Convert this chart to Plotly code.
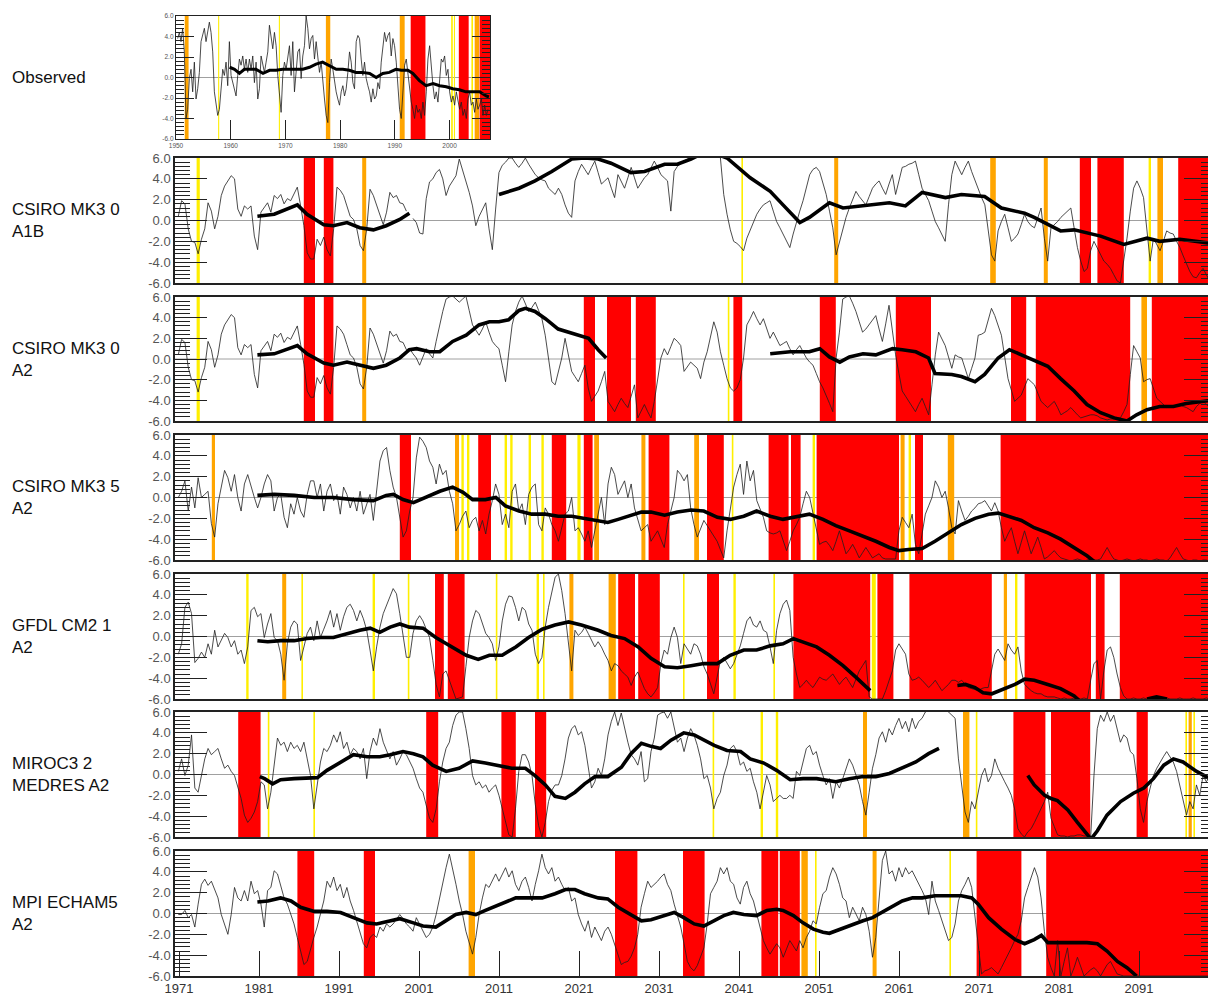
import plotly.graph_objects as go

MODEL_T0 = 1970.5      # first model sample is MODEL_T0 + MODEL_DT
MODEL_DT = 0.4132      # years between digitised samples
OBS_T0 = 1950.0
OBS_DT = 0.305

# ---------------- thin lines (index values) ----------------
CSIRO30_HIST = [
    0.4, 1.9, 1.6, -0.8, -2.0, -2.1, -3.2, -1.8, -0.8, 1.7,
    0.9, -0.8, 0.4, 2.4, 3.3, 3.8, 4.3, 4.0, 1.1, 0.4,
    1.4, 1.1, 1.4, -1.5, -2.8, 0.8, 1.2, 1.7, 0.8, 2.4,
    2.1, 2.5, 1.6, 2.1, 1.9, 2.5, 3.2, 1.4, -0.5, -3.1,
    -3.7, -3.7, -1.8, -2.4, -1.6, -2.8, -3.4, -0.8, 3.2, 2.9,
    2.4, 1.4, 0.4, 0.1, -0.8, -2.4, -2.9, -0.8, 3.0, 2.4,
    1.4, 0.4, -0.4, 0.8, 2.7, 2.2, 2.4, 1.7, 1.6, 0.9]

A1B_FUT = [
    None, 0.2, -0.2, -1.2, -1.3, 2.1, 3.7, 4.0, 4.6, 4.9,
    4.0, 2.4, 3.3, 3.8, 4.3, 5.9, 4.9, 3.7, 2.7, 1.4,
    -0.5, 0.4, 1.1, 1.7, -0.8, -2.8, 1.1, 4.6, 5.3, 5.6,
    6.0, 6.0, 5.5, 5.1, 5.5, 6.0, 5.4, 4.9, 4.4, 4.1,
    3.9, 3.8, 3.1, 2.8, 2.5, 3.1, 2.5, 1.5, 0.7, 0.3,
    3.8, 4.7, 5.4, 4.9, 4.4, 5.1, 5.7, 4.6, 3.5, 3.8,
    4.1, 3.1, 2.2, 4.4, 3.8, 3.1, 4.1, 5.1, 4.1, 3.1,
    3.6, 4.1, 4.4, 5.1, 5.7, 5.1, 4.4, 4.1, 3.8, 0.9,
    4.7, 5.2, 5.5, 5.7, 5.9, 6.0, 6.3, 6.5, 6.8, 6.5,
    6.6, 6.4, 6.3, 6.2, 6.0, 2.5, 0.6, -0.9, -2.0, -2.2,
    -2.5, -2.9, -1.7, -0.9, -0.1, 0.6, 1.1, 1.5, 1.7, 1.9,
    0.9, -0.1, -0.7, -1.3, -2.0, -2.6, -1.3, -0.1, 0.9, 1.9,
    3.1, 4.4, 4.9, 5.1, 4.7, 3.6, 2.5, 0.9, -0.7, -3.3,
    -2.0, -0.7, 0.3, 1.2, 2.0, 2.8, 2.3, 1.9, 1.5, 2.3,
    3.1, 3.5, 3.8, 3.1, 2.5, 3.5, 4.4, 2.5, 3.8, 5.1,
    5.2, 5.4, 5.5, 5.7, 4.4, 3.1, 2.5, 1.9, 0.9, -0.1,
    -0.7, -1.3, -2.0, 1.5, 4.4, 5.7, 5.1, 4.4, 5.1, 5.7,
    4.7, 3.8, 3.0, 2.2, 1.5, -0.7, -3.3, -3.9, -1.0, -0.1,
    0.6, -0.7, -2.0, -1.7, -1.3, -0.4, 0.6, -0.1, -0.5, -0.7,
    0.3, 1.2, -1.7, -3.9, -0.7, -0.4, -0.1, 0.3, 0.6, 0.9,
    1.2, -0.7, -2.6, -3.9, -4.9, -4.6, -2.9, -2.0, -2.6, -3.3,
    -3.9, -4.2, -4.6, -5.2, -5.8, -6.0, -3.9, -1.7, 0.9, 3.1,
    3.8, 3.1, 2.2, -1.0, -3.9, -1.7, -2.3, -2.9, -2.0, -1.0,
    -1.2, -1.3, -2.0, -2.6, -3.4, -4.2, -4.9, -5.4, -5.5, -5.0,
    -4.6, -5.2, -5.8]

A2_FUT = [
    1.0, 0.5, 0.1, -0.6, 0.2, 1.0, 0.5, 0.1, 1.7, 3.3,
    4.6, 5.8, 6.0, 6.1, 5.8, 5.5, 5.8, 6.1, 4.7, 3.3,
    2.8, 2.3, 2.9, 3.6, 2.6, 1.7, 1.3, 1.0, -0.6, -2.2,
    0.7, 3.3, 4.6, 5.5, 6.1, 5.4, 4.6, 5.0, 5.5, 4.7,
    3.9, 2.3, 0.1, -2.2, -2.5, -1.2, 0.1, 2.0, 0.4, -1.2,
    -1.7, -2.2, -1.4, -0.6, -2.8, -4.1, -3.6, -3.1, -2.2, -1.2,
    -4.1, -4.6, -5.1, -4.4, -3.8, -4.3, -4.7, -3.6, -2.5, -5.7,
    -5.1, -4.4, -5.1, -5.7, -4.1, -2.2, 0.1, 1.0, 0.4, 1.2,
    2.0, 1.7, 1.3, -1.2, -0.7, -0.3, -0.6, -0.9, -1.9, -0.3,
    0.7, 2.3, 3.6, 2.6, 0.7, -0.6, -1.9, -2.8, -3.1, -2.8,
    -2.0, 0.1, 3.3, 3.9, 4.6, 3.9, 3.3, 3.9, 2.9, 2.0,
    2.6, 2.0, 1.3, 1.5, 1.7, 1.0, 0.4, 0.9, 1.3, 0.7,
    0.1, -0.3, -0.6, -1.4, -2.2, -2.8, -3.5, -4.3, -5.1, 0.1,
    2.6, 5.8, 6.0, 6.1, 5.4, 4.6, 3.6, 2.6, 2.9, 3.3,
    3.8, 4.2, 2.9, 1.7, 3.4, 5.2, 2.8, 0.4, -1.4, -3.1,
    -3.6, -4.1, -4.6, -5.1, -4.4, -3.8, -4.6, -5.4, -2.5, 0.4,
    2.6, 2.0, 1.3, 0.2, -0.9, 0.4, 0.2, 0.1, -0.9, -1.9,
    -0.9, 0.1, 2.3, 2.4, 2.6, 3.8, 4.9, 4.2, 3.3, 2.3,
    0.2, -1.9, -3.0, -4.1, -3.8, -3.5, -2.7, -1.9, -2.2, -2.5,
    -3.3, -4.1, -4.4, -4.7, -4.4, -4.1, -4.7, -5.4, -5.2, -5.0,
    -4.7, -5.1, -5.4, -5.7, -5.6, -5.5, -5.4, -5.4, -5.5, -5.7,
    -5.8, -5.9, -5.8, -5.8, -5.7, -5.7, -5.1, -4.4, -1.5, 1.3,
    0.7, 0.1, -2.2, -2.0, -1.9, -2.8, -3.8, -4.1, -4.4, -4.7,
    -4.6, -4.6, -4.5, -4.4, -4.6, -4.7, -4.9, -5.1, -4.6, -4.3,
    -4.1, -4.4, -4.7]

MK35_VALUES = [
    0.0, 0.6, 1.6, -1.3, 1.0, -1.0, 1.9, 0.0, 0.3, 0.6,
    -2.5, -3.8, -0.6, 1.0, 2.6, 1.9, 0.6, 2.2, 0.0, -1.3,
    1.3, 2.2, 1.0, 0.0, -1.0, 0.0, 1.3, 2.2, 1.6, -1.3,
    0.0, 0.3, -1.9, -2.9, -0.6, -1.6, 0.0, -1.3, -1.9, 0.3,
    1.6, 1.6, 0.0, 1.3, -1.3, 0.6, 1.3, -0.3, 0.3, -1.6,
    1.0, 0.3, -1.0, 0.0, -1.3, 0.6, -1.6, -0.6, 0.3, -2.2,
    0.6, 3.5, 4.5, 4.8, 2.6, 1.0, 0.0, -1.9, -3.8, -3.2,
    -1.3, 0.0, 3.8, 5.8, 5.4, 4.8, 3.5, 2.9, 1.3, 3.2,
    2.2, 2.6, 0.6, -0.6, -3.2, -2.6, -1.8, -1.3, -2.9, -2.2,
    -1.9, -3.2, -2.2, -3.5, -1.6, -0.3, 1.3, 0.3, -2.6, -1.6,
    -2.9, 0.6, 1.3, -1.3, -0.6, -2.6, 0.3, 1.0, 1.3, -2.6,
    -3.2, -1.0, -1.6, -2.6, -3.2, -4.2, -2.9, -1.6, -1.3, 0.0,
    -3.2, -2.9, -3.5, -4.2, -3.2, -4.8, -3.2, -1.6, 0.0, -2.6,
    1.3, 2.9, 2.2, 0.3, 1.0, 1.6, 0.0, 1.3, -1.0, -2.2,
    -3.2, -2.9, -2.6, -4.2, -3.7, -3.2, -4.0, -4.8, -2.6, -1.3,
    0.0, 2.6, 2.2, 1.6, 2.2, -1.0, -2.6, -3.8, -3.0, -2.2,
    -2.7, -3.2, -3.7, -4.2, -5.0, -5.8, -3.2, -1.3, 1.0, 2.2,
    3.2, 0.3, 3.5, 1.6, 2.6, -0.3, -1.1, -1.9, -3.2, -3.4,
    -3.5, -3.4, -3.2, -4.2, -5.1, -4.2, -3.2, -2.6, -1.9, -0.6,
    0.6, 0.0, -1.6, -3.2, -4.5, -4.3, -4.2, -4.6, -5.1, -4.2,
    -3.2, -4.3, -5.4, -5.0, -4.5, -5.1, -5.8, -5.3, -4.8, -5.3,
    -5.8, -5.6, -5.4, -5.8, -5.9, -5.9, -5.9, -5.9, -3.2, -1.9,
    -2.4, -2.9, -1.6, -4.5, -5.4, -3.5, -1.6, -0.8, 0.0, 1.6,
    1.0, 0.0, 0.6, -1.0, -2.9, -3.5, -0.3, -1.3, -2.2, -1.8,
    -1.3, -1.0, -0.6, -0.5, -0.3, -0.8, -1.3, -0.5, -1.3, -2.9,
    -4.2, -3.5, -2.9, -4.2, -5.4, -4.3, -3.2, -4.3, -5.4, -4.6,
    -3.8, -4.8, -5.9, -5.7, -5.4, -5.1, -5.5, -5.8, -5.9, -6.0,
    -6.1, -6.0, -5.9, -6.0, -6.1, -6.0, -5.9, -6.0, -6.0, -5.9,
    -5.4, -4.8, -5.4, -5.9, -6.0, -6.1, -6.0, -5.9, -6.0, -6.1,
    -6.0, -5.9, -6.0, -6.0, -6.1, -6.0, -5.9, -6.0, -6.0, -6.1,
    -5.8, -5.3, -4.8, -5.4, -5.9, -6.0, -6.1, -6.0, -6.0, -6.1,
    -6.0, -6.0, -6.1]

GFDL_VALUES = [
    -1.7, -0.7, 2.8, 3.3, 2.2, -2.5, -2.1, -1.5, -2.0, -0.7,
    -1.7, 0.6, -1.0, -0.4, 0.3, -0.1, -1.0, -0.4, -1.7, -1.3,
    -2.6, -1.0, 2.5, 2.8, 1.9, 2.2, -0.1, 1.2, 2.2, -0.1,
    -0.4, -1.7, -4.2, -0.7, 0.9, 1.5, 1.2, -2.3, -1.0, 0.3,
    0.9, -0.4, 1.5, -0.1, 0.7, 1.5, 2.5, 0.9, 2.2, 0.6,
    1.9, 2.8, 3.1, 2.5, 1.5, 2.5, 1.7, 0.6, -1.3, -3.3,
    -1.0, 0.9, 2.2, 3.1, 3.8, 4.6, 4.1, 2.2, 0.3, -2.0,
    -2.0, 0.3, 1.5, 2.0, 1.5, 0.6, -0.1, -2.3, -4.6, -5.8,
    -3.6, -3.3, -4.2, -5.2, -6.0, -5.9, -5.8, -2.9, -0.1, 1.5,
    2.5, 2.2, 1.2, 0.3, -0.1, -0.7, -2.3, -1.0, 1.5, 3.1,
    3.9, 3.8, 2.8, 1.5, 2.8, 2.5, 1.2, 0.6, -1.7, -2.6,
    -2.0, 0.9, 2.8, 4.4, 5.7, 6.0, 4.4, 2.2, -0.7, -3.3,
    0.6, 0.1, 0.4, 0.9, 0.3, -0.4, -1.0, -0.5, -1.0, -1.7,
    -2.3, -3.3, -2.6, -2.8, -3.3, -3.6, -3.9, -4.7, -3.9, -3.4,
    -4.2, -5.0, -5.5, -5.8, -5.4, -4.9, -2.6, -1.3, -1.7, -0.1,
    0.9, -0.1, -2.6, -0.7, -1.2, -1.7, -0.7, -0.9, -1.7, -2.9,
    -3.6, -4.6, -5.5, -3.9, -2.3, -2.0, -2.6, -3.1, -2.6, -1.7,
    -0.9, 0.3, 1.5, 1.9, 1.1, 0.9, 1.5, 0.6, 0.4, -1.0,
    -2.6, 0.6, 2.2, 3.1, 3.5, 2.5, -2.0, -3.6, -4.9, -4.6,
    -4.2, -4.6, -4.9, -4.4, -3.9, -4.1, -4.2, -3.9, -3.6, -4.1,
    -4.6, -4.2, -3.9, -4.4, -4.9, -4.1, -3.3, -2.8, -2.3, -5.8,
    -6.0, -6.0, -6.0, -6.0, -5.2, -4.2, -3.3, -1.3, -0.7, -1.2,
    -1.7, -3.6, -4.2, -4.1, -3.9, -4.2, -4.6, -4.9, -4.6, -4.2,
    -4.7, -5.2, -4.9, -4.6, -4.2, -4.2, -4.4, -4.2, -4.6, -4.9,
    -5.0, -5.1, -5.2, -5.0, -4.9, -4.9, -3.3, -1.7, -1.2, -1.7,
    -2.3, -0.7, -1.3, -1.7, -1.0, -3.3, -4.6, -4.9, -5.2, -5.4,
    -5.5, -5.5, -5.7, -5.8, -5.8, -5.8, -5.9, -6.0, -5.9, -6.0,
    -6.0, -5.9, -6.0, -6.0, -5.9, -6.0, -4.2, -2.6, -2.3, -6.0,
    -3.3, -1.3, -1.0, -2.0, -3.6, -4.9, -5.7, -6.0, -6.0, -5.9,
    -6.0, -6.0, -5.9, -6.0, -6.0, -6.0, -5.9, -6.0, -6.0, -5.9,
    -6.0, -6.0, -6.0, -5.9, -6.0, -6.0, -6.0, -5.9, -6.0, -6.0,
    -6.0, -5.9, -6.0]

MIROC_VALUES = [
    0.3, 1.5, -0.1, 0.9, 3.8, -1.3, -1.7, -0.1, 1.5, 2.5,
    1.9, 2.2, 2.5, 1.5, 0.6, 0.9, 0.3, -0.1, -1.3, -2.3,
    -3.9, -4.6, -4.2, -3.6, -2.6, -0.7, -1.0, -3.3, -1.7, 0.9,
    3.5, 2.8, 3.1, 2.2, 3.1, 2.5, 2.8, 2.2, 3.1, 1.5,
    -0.1, -3.3, -1.0, 1.2, 2.5, 2.2, 2.8, 3.8, 3.1, 4.1,
    2.5, 3.1, 1.9, 2.5, 2.2, 1.5, 2.5, -0.4, 2.2, 3.5,
    2.8, 4.4, 3.1, 2.2, 1.5, 2.2, 0.9, 1.5, 2.2, 1.9,
    1.2, 0.6, -0.4, -1.3, -1.7, -2.9, -4.2, -4.6, -3.3, -0.7,
    1.2, 2.5, 3.1, 4.7, 5.7, 6.0, 6.0, 4.4, 2.5, -0.1,
    -1.0, -0.7, -1.3, -1.0, -1.7, -1.3, -1.0, -2.0, -3.3, -4.6,
    -5.8, -6.0, -3.3, 0.3, 1.9, 1.9, 1.2, -0.1, -2.9, -4.9,
    -6.0, -4.6, -2.6, -1.5, -1.0, -1.0, -0.1, 1.5, 3.5, 4.4,
    4.7, 3.8, 4.1, 2.8, 0.6, -1.3, -0.7, 0.6, -0.1, 1.5,
    3.8, 5.1, 6.0, 4.7, 5.9, 4.4, 3.1, 1.9, 1.5, 0.9,
    2.2, -0.7, -0.4, 2.2, 3.5, 5.7, 5.9, 6.0, 5.4, 6.0,
    4.4, 3.1, 3.5, 2.2, 3.5, 4.4, 3.8, 2.8, 1.5, -0.4,
    -0.1, -1.3, -3.3, -2.3, -1.7, -0.1, 0.9, 2.5, 2.8, 2.2,
    0.9, 1.2, 0.3, 0.6, -0.7, -1.7, -3.3, -1.7, -0.1, -1.0,
    -2.6, -2.3, -2.0, -2.3, -2.3, -2.0, -2.3, 0.3, -0.1, 1.2,
    2.5, 2.8, 1.9, 2.2, 0.9, -0.1, -1.0, -0.4, -2.3, -0.7,
    -1.3, -0.4, 0.6, 1.5, 0.9, -0.1, -1.0, -2.6, -3.9, -1.7,
    0.6, 1.9, 3.5, 4.1, 3.1, 4.4, 3.8, 4.7, 5.4, 4.4,
    5.1, 4.1, 5.4, 4.4, 5.1, 5.4, 6.0, 6.3, 6.4, 6.5,
    6.4, 6.3, 6.3, 6.0, 5.7, 5.4, 1.5, -1.0, -3.6, -4.6,
    -2.6, -3.3, -1.7, -0.1, 0.6, -0.7, -0.1, 1.5, 0.6, -0.1,
    -0.7, -1.3, -2.0, -3.3, -5.2, -5.7, -6.0, -5.5, -5.2, -4.6,
    -3.9, -3.3, -2.6, -1.7, -4.2, -5.0, -5.8, -5.9, -5.9, -6.0,
    -5.9, -5.9, -5.8, -5.8, -5.9, -5.9, -6.0, -0.1, 4.4, 5.7,
    5.1, 6.0, 5.1, 5.7, 4.4, 3.1, 3.8, 3.5, 2.2, 1.9,
    -0.4, -3.3, -4.6, -2.6, -1.3, -0.1, 0.6, 1.2, 1.7, 2.2,
    1.7, 1.2, 0.3, -1.0, -2.6, -3.9, -2.6, -3.3, -1.0, -2.0,
    -0.1, -0.7, -0.2]

MPI_VALUES = [
    -0.1, -0.1, 0.3, -0.4, -0.1, -1.3, 0.9, 2.8, 3.3, 2.7,
    3.1, 2.2, 1.5, -0.1, -1.0, -2.0, -0.1, 2.5, 1.5, 1.2,
    2.2, 1.2, 3.1, 1.9, 2.2, 0.9, -1.3, 2.2, 2.5, 4.1,
    3.8, 2.5, 1.5, 0.9, -0.1, -1.0, -2.3, -3.6, -4.9, -4.6,
    -3.3, -2.3, -1.3, -0.1, 1.2, 3.1, 2.5, 3.5, 2.2, 2.8,
    1.5, 2.5, 1.2, 0.3, -0.7, -1.7, -2.9, -3.3, -2.3, -2.0,
    -2.3, -1.3, -1.7, -1.0, -1.3, -1.0, -0.5, -0.1, -0.5, -1.0,
    -1.3, -1.7, -0.4, -1.0, -1.7, -2.3, -2.0, -1.3, -0.1, 1.5,
    3.1, 4.4, 5.7, 4.4, 2.8, 1.2, -0.1, -1.7, -2.9, -3.9,
    -2.3, -0.1, 1.5, 2.8, 2.5, 3.1, 3.8, 3.1, 3.8, 4.4,
    3.5, 4.1, 2.8, 2.2, 3.1, 3.5, 2.5, 1.2, 2.8, 4.1,
    5.7, 4.4, 3.8, 4.4, 3.1, 3.5, 2.8, 2.2, 2.5, 1.2,
    1.5, -0.1, -1.0, -1.7, -0.7, -2.3, -1.3, -2.0, -2.6, -1.7,
    -1.3, -2.0, -2.9, -3.9, -4.9, -4.7, -4.6, -4.1, -3.3, -2.0,
    0.6, 1.9, 3.1, 2.5, 2.8, 3.1, 3.5, 3.8, 2.8, 2.2,
    0.9, -0.1, -1.3, -2.9, -4.6, -5.2, -5.5, -5.0, -4.2, -3.3,
    -1.0, 1.9, 2.5, 3.1, 4.4, 3.8, 4.4, 3.1, 2.8, 1.5,
    0.9, 2.5, 3.1, 1.9, 1.2, -0.1, -1.3, -2.6, -3.3, -3.9,
    -3.4, -2.9, -3.3, -4.2, -3.4, -2.6, -3.1, -3.6, -2.6, -3.3,
    -2.3, -1.7, -0.7, -1.0, 0.6, 1.9, 2.2, 3.5, 4.4, 3.8,
    2.8, 1.5, 1.2, -0.4, 0.6, -0.1, -0.7, 0.6, -0.1, -1.7,
    -4.2, -2.3, 1.5, 5.1, 6.0, 3.8, 4.1, 3.1, 4.4, 3.5,
    4.4, 3.8, 4.1, 3.5, 2.8, 2.2, 1.5, -0.1, 3.1, 1.2,
    0.3, -0.7, -1.7, -2.6, -2.3, -1.0, 1.2, 2.2, 2.8, 3.5,
    2.5, -0.1, -2.9, -5.8, -5.5, -5.4, -5.2, -5.5, -5.8, -5.2,
    -4.6, -3.9, -3.3, -2.6, -2.0, -0.7, 1.5, 2.5, 3.5, 4.4,
    3.5, 1.5, -1.7, -4.2, -5.2, -6.0, -2.6, -6.0, -4.6, -3.3,
    -6.0, -5.2, -4.2, -5.2, -6.0, -5.7, -5.4, -5.2, -5.5, -6.0,
    -5.4, -4.9, -4.6, -5.2, -5.8, -5.9, -6.0, -6.0, -6.0, -6.0,
    -6.0, -6.0, -6.0, -6.0, -6.0, -6.0, -6.0, -6.0, -6.0, -6.0,
    -6.0, -6.0, -6.0, -6.0, -6.0, -6.0, -6.0, -6.0, -6.0, -6.0,
    -6.0, -6.0, -6.0]

OBS_VALUES = [
    3.8, 4.4, 3.5, 4.8, 2.5, -4.0, -3.1, -0.1, 0.8, -1.4,
    1.5, -2.1, -1.1, 0.5, 3.5, 4.1, 4.8, 3.5, 4.4, 5.4,
    4.4, 2.5, -1.4, -2.4, -3.7, -3.1, -1.4, 0.8, 0.2, 1.5,
    -0.8, 3.5, 0.2, -0.5, -1.1, -1.8, 0.2, 1.8, 1.2, 2.1,
    0.8, 1.8, 0.5, 1.8, 0.8, 2.1, -0.5, 1.5, -2.1, -1.1,
    2.1, 1.2, 0.5, 1.5, 2.5, 5.1, 3.8, 2.8, 4.4, 3.1,
    0.2, -1.8, -3.4, 0.2, 1.5, 0.8, 2.1, 3.1, 0.2, 3.5,
    -1.4, 0.8, 2.5, 2.8, -0.1, 2.1, 3.1, 6.0, 4.8, 2.8,
    3.8, 4.1, 1.8, 3.5, 2.1, 0.5, 1.5, -0.8, -2.1, -3.7,
    -4.4, -0.5, 1.8, 0.8, -0.5, -1.4, -2.1, -2.7, -1.4, -0.8,
    -1.8, -1.1, 0.5, 2.5, 1.5, -0.5, -1.1, 3.5, 4.1, 3.8,
    1.8, 0.2, 1.5, -0.1, -0.8, -1.4, -2.4, -1.1, -2.1, -1.8,
    -0.5, -1.1, 1.5, 2.8, 4.4, 3.5, 4.1, 4.4, 2.1, 3.8,
    3.1, 1.5, -1.4, -3.1, -4.0, -1.8, 1.2, 1.8, 0.2, -1.4,
    -2.4, -3.1, -4.0, -2.7, -3.4, -3.1, -4.0, -2.4, -3.7, -1.4,
    1.8, 3.1, 0.8, -0.8, -2.1, -1.4, -2.4, 0.2, 1.8, 1.5,
    2.1, 0.2, 0.8, -1.4, -2.4, -1.8, -2.7, -1.4, -2.1, -3.1,
    -2.4, -3.7, -3.1, -4.0, -2.1, -1.4, -2.7, -2.4, -3.4, -2.1,
    -3.1, -2.7, -2.1, -3.7, -2.7, -3.7, -3.1]

# ---------------- thick (smoothed) lines ----------------
OBS_THICK_T = [1959.8, 1960.7, 1961.6, 1962.5, 1963.4, 1964.6, 1965.9, 1967.1, 1968.3, 1969.5,
               1970.7, 1972.0, 1973.2, 1974.4, 1975.6, 1976.8, 1978.0, 1979.3, 1980.5, 1981.7,
               1982.9, 1984.1, 1985.4, 1986.6, 1987.8, 1989.0, 1990.2, 1991.2, 1992.4, 1993.3,
               1994.5, 1995.7, 1997.0, 1998.2, 1999.4, 2000.6, 2001.8, 2003.0, 2004.3, 2005.5,
               2006.7, 2007.2]
OBS_THICK_V = [1.0, 0.8, 0.4, 0.8, 0.8, 0.8, 0.4, 0.7, 0.7, 0.8,
               0.8, 0.8, 0.8, 1.0, 1.3, 1.5, 1.2, 0.8, 0.8, 0.7,
               0.5, 0.5, 0.4, 0.0, 0.4, 0.5, 0.8, 0.7, 0.7, 0.4,
               -0.3, -0.8, -0.6, -0.8, -0.9, -1.1, -1.2, -1.4, -1.4, -1.4,
               -1.8, -1.9]

A1B_THICK_T = [1980.8, 1982.9, 1985.8, 1987.0, 1989.1, 1990.3, 1992.0, 1993.6, 1995.3, 1996.9,
               1998.6, 1999.8, None,
               2011.0, 2013.5, 2015.5, 2017.6, 2020.1, 2021.7, 2023.4, 2025.0, 2027.5, 2029.2,
               2031.7, 2033.3, 2035.0, 2035.8, 2037.4, 2039.5, 2042.4, 2044.9, 2046.5, 2048.6,
               2049.8, 2052.3, 2054.0, 2057.3, 2059.8, 2061.8, 2063.9, 2066.8, 2068.8, 2071.7,
               2073.8, 2076.7, 2077.9, 2081.2, 2082.9, 2086.2, 2089.1, 2092.0, 2093.6, 2096.1,
               2100.1]
A1B_THICK_V = [0.4, 0.6, 1.5, 0.6, -0.4, -0.5, -0.2, -0.7, -0.9, -0.5,
               0.1, 0.7, None,
               2.5, 3.1, 3.8, 4.7, 5.9, 6.0, 5.9, 5.5, 4.6, 4.7,
               5.4, 5.4, 5.9, 6.2, 6.6, 6.0, 4.1, 2.8, 1.5, -0.2,
               0.3, 1.7, 1.2, 1.5, 1.7, 1.4, 2.7, 2.2, 2.5, 2.3,
               1.2, 0.7, 0.3, -1.0, -0.9, -1.5, -2.3, -1.7, -2.0, -1.8,
               -2.2]

A2_THICK_T = [1980.8, 1982.9, 1985.8, 1987.0, 1989.1, 1990.3, 1992.0, 1994.1, 1995.3, 1996.9,
              1998.6, 1999.8, 2000.7, 2002.3, 2003.6, 2005.2, 2006.9, 2008.5, 2009.8, 2011.0,
              2012.2, 2013.5, 2014.3, 2015.5, 2016.8, 2018.4, 2020.1, 2022.2, 2023.4, 2024.4,
              None,
              2044.9, 2047.4, 2049.8, 2051.1, 2052.3, 2053.6, 2054.8, 2056.5, 2058.1, 2060.2,
              2061.4, 2063.1, 2064.7, 2065.5, 2067.6, 2068.8, 2070.5, 2071.7, 2073.4, 2074.8,
              2076.3, 2077.9, 2079.6, 2081.2, 2082.9, 2084.5, 2086.2, 2087.9, 2089.5, 2090.7,
              2092.0, 2093.6, 2095.3, 2096.9, 2098.6, 2100.1]
A2_THICK_V = [0.4, 0.5, 1.3, 0.5, -0.4, -0.6, -0.3, -0.7, -0.9, -0.6,
              0.1, 0.9, 1.0, 0.7, 0.7, 1.7, 2.3, 3.3, 3.6, 3.6,
              3.8, 4.7, 4.9, 4.6, 3.9, 2.9, 2.5, 2.0, 0.9, 0.1,
              None,
              0.5, 0.7, 0.7, 1.0, 0.2, -0.3, 0.2, 0.5, 0.4, 1.0,
              0.9, 0.7, 0.1, -1.4, -1.5, -1.7, -2.2, -1.5, 0.1, 0.9,
              0.4, -0.1, -0.7, -1.9, -3.1, -4.4, -5.2, -5.7, -6.0, -5.4,
              -4.9, -4.6, -4.6, -4.3, -4.1, -4.0]

MK35_THICK_T = [1980.8, 1982.9, 1985.4, 1987.9, 1990.3, 1992.8, 1995.3, 1996.9, 1997.8, 1999.0,
                2000.3, 2001.9, 2003.6, 2005.2, 2006.5, 2007.7, 2009.3, 2010.6, 2011.8, 2013.5,
                2015.1, 2016.8, 2018.4, 2020.1, 2021.7, 2023.4, 2024.6, 2025.9, 2027.5, 2028.8,
                2030.0, 2031.7, 2033.3, 2035.0, 2036.6, 2038.3, 2039.9, 2041.6, 2043.2, 2044.9,
                2046.5, 2047.8, 2049.8, 2051.5, 2053.1, 2054.8, 2056.5, 2058.1, 2059.8, 2061.0,
                2062.2, 2063.9, 2065.5, 2067.2, 2068.8, 2070.5, 2072.2, 2073.4, 2074.6, 2076.3,
                2077.9, 2079.6, 2081.2, 2082.9, 2084.5, 2085.5]
MK35_THICK_V = [0.2, 0.3, 0.2, 0.0, 0.0, -0.2, -0.3, 0.2, 0.3, -0.2,
                -0.5, 0.0, 0.6, 1.0, 0.5, -0.2, -0.2, 0.0, -0.8, -1.3,
                -1.6, -1.6, -1.8, -1.8, -2.0, -2.2, -2.4, -2.1, -1.7, -1.4,
                -1.4, -1.7, -1.4, -1.2, -1.3, -1.9, -2.1, -1.8, -1.3, -1.8,
                -2.1, -1.9, -1.6, -2.1, -2.7, -3.2, -3.7, -4.2, -4.8, -5.1,
                -5.0, -4.9, -4.2, -3.4, -2.6, -2.0, -1.6, -1.5, -1.8, -2.2,
                -2.9, -3.4, -4.0, -4.8, -5.6, -6.2]

GFDL_THICK_T = [1980.8, 1982.1, 1983.7, 1985.4, 1987.0, 1988.7, 1990.3, 1992.0, 1993.6, 1994.9,
                1996.1, 1997.4, 1998.6, 1999.8, 2001.5, 2003.1, 2005.2, 2006.9, 2008.4, 2009.8,
                2011.4, 2013.1, 2014.7, 2016.4, 2018.0, 2019.7, 2021.3, 2023.4, 2025.0, 2026.7,
                2028.4, 2030.0, 2031.7, 2033.3, 2035.0, 2036.6, 2038.3, 2039.9, 2041.6, 2043.2,
                2044.9, 2046.5, 2047.8, 2049.0, 2050.7, 2052.3, 2054.0, 2055.6, 2057.4, None,
                2068.3, 2069.3, 2070.5, 2071.5, 2072.6, 2073.8, 2075.5, 2076.7, 2077.9, 2079.6,
                2081.2, 2082.9, 2083.6, None,
                2092.0, 2093.2, 2094.5]
GFDL_THICK_V = [-0.4, -0.5, -0.4, -0.4, -0.2, -0.1, -0.1, 0.3, 0.6, 0.8,
                0.4, 0.9, 1.2, 0.9, 0.8, -0.1, -1.0, -1.8, -2.2, -1.8,
                -1.8, -1.0, -0.1, 0.7, 1.1, 1.4, 1.1, 0.6, 0.1, -0.2,
                -1.0, -2.1, -2.9, -3.0, -2.8, -2.6, -2.6, -1.8, -1.3, -1.3,
                -0.9, -0.7, -0.2, -0.5, -1.0, -1.8, -2.8, -3.9, -5.2, None,
                -4.7, -4.6, -4.9, -5.4, -5.5, -5.1, -4.6, -4.1, -4.2, -4.6,
                -5.0, -5.7, -6.2, None,
                -6.0, -5.8, -6.0]

MIROC_THICK_T = [1981.1, 1981.7, 1982.7, 1983.7, 1985.4, 1987.0, 1988.3, 1989.5, 1991.2, 1992.8,
                 1994.5, 1996.1, 1997.4, 1999.0, 2000.3, 2001.5, 2002.7, 2004.4, 2006.0, 2007.7,
                 2009.3, 2011.0, 2012.6, 2014.3, 2015.5, 2016.8, 2018.0, 2019.3, 2020.5, 2021.7,
                 2023.0, 2024.6, 2026.3, 2027.5, 2028.8, 2030.0, 2031.2, 2032.5, 2034.1, 2035.4,
                 2036.6, 2037.9, 2039.5, 2041.2, 2042.4, 2044.1, 2045.7, 2047.4, 2049.0, 2050.7,
                 2053.1, 2054.8, 2056.5, 2058.1, 2059.8, 2061.4, 2063.1, 2064.7, 2066.0, None,
                 2077.1, 2077.9, 2079.2, 2080.0, 2080.8, 2082.1, 2083.3, 2085.0, 2085.8, 2087.0,
                 2088.7, 2090.3, 2091.6, 2092.8, 2094.1, 2095.3, 2096.5, 2098.2, 2100.1]
MIROC_THICK_V = [-0.2, -0.4, -0.9, -0.5, -0.4, -0.3, -0.3, 0.4, 1.2, 1.9,
                 1.7, 1.7, 1.9, 2.2, 2.0, 1.7, 0.9, 0.3, 0.6, 1.3,
                 1.1, 0.8, 0.6, 0.6, -0.1, -1.0, -2.1, -2.3, -1.7, -0.9,
                 -0.2, -0.2, 0.7, 2.0, 3.0, 2.7, 2.5, 3.3, 4.0, 3.8,
                 3.3, 2.8, 2.3, 2.2, 1.5, 1.1, 0.4, -0.5, -0.4, -0.4,
                 -0.7, -0.4, -0.2, -0.2, 0.1, 0.6, 1.2, 2.0, 2.5, None,
                 -0.1, -1.0, -2.0, -2.3, -2.5, -3.4, -4.6, -6.2, -5.4, -3.9,
                 -2.6, -1.8, -1.3, -0.4, 0.9, 1.5, 1.2, 0.3, -0.5]

MPI_THICK_T = [1980.8, 1982.1, 1983.7, 1985.0, 1986.2, 1987.9, 1989.5, 1991.2, 1992.8, 1994.5,
               1995.7, 1996.9, 1998.6, 2000.3, 2001.5, 2003.1, 2004.4, 2005.6, 2006.9, 2008.1,
               2009.3, 2010.6, 2011.8, 2013.1, 2014.7, 2016.4, 2018.0, 2019.3, 2020.5, 2021.7,
               2023.4, 2024.6, 2025.9, 2027.5, 2028.8, 2030.0, 2031.7, 2032.9, 2034.1, 2035.4,
               2036.6, 2037.9, 2039.1, 2040.3, 2041.6, 2043.2, 2044.5, 2045.7, 2046.5, 2047.8,
               2049.0, 2050.3, 2051.5, 2052.3, 2053.6, 2054.8, 2056.5, 2057.7, 2058.9, 2060.2,
               2061.4, 2062.7, 2063.9, 2065.5, 2067.2, 2068.8, 2070.1, 2070.9, 2072.2, 2073.8,
               2075.5, 2076.7, 2077.9, 2078.8, 2079.6, 2081.2, 2082.9, 2084.5, 2085.8, 2087.0,
               2088.3, 2089.5, 2090.7]
MPI_THICK_V = [1.1, 1.2, 1.5, 1.2, 0.6, 0.2, 0.2, 0.1, -0.4, -0.9,
               -1.0, -0.8, -0.5, -0.9, -1.2, -1.3, -0.7, -0.1, 0.1, -0.1,
               0.3, 0.7, 1.1, 1.5, 1.5, 1.5, 1.9, 2.3, 2.3, 1.9,
               1.5, 1.4, 0.6, -0.1, -0.7, -0.6, -0.2, 0.1, -0.4, -1.0,
               -1.2, -0.7, -0.2, 0.1, -0.1, -0.2, 0.3, 0.4, 0.3, -0.2,
               -0.9, -1.5, -1.8, -1.9, -1.5, -1.2, -0.7, -0.4, 0.1, 0.7,
               1.2, 1.5, 1.5, 1.7, 1.7, 1.7, 1.5, 0.9, -0.4, -1.5,
               -2.5, -2.9, -2.5, -2.1, -2.8, -2.8, -2.8, -2.8, -2.9, -3.6,
               -4.6, -5.2, -6.0]

# ---------------- shaded periods (start year, end year, class) ----------------
OBS_BANDS = [(1951.6, 1952.3, 'O'), (1957.7, 1957.9, 'Y'), (1968.8, 1969.0, 'Y'),
             (1977.4, 1978.2, 'O'), (1990.9, 1991.8, 'O'), (1992.9, 1995.6, 'R'),
             (2000.3, 2000.6, 'Y'), (2000.8, 2001.0, 'Y'), (2001.7, 2003.5, 'R'),
             (2004.0, 2004.3, 'Y'), (2004.6, 2005.4, 'O'), (2005.5, 2007.4, 'R')]
A1B_BANDS = [(1973.2, 1973.6, 'Y'), (1986.6, 1988.0, 'R'), (1989.1, 1990.3, 'R'),
             (1993.9, 1994.4, 'O'), (2041.3, 2041.5, 'Y'), (2052.9, 2053.4, 'O'),
             (2072.4, 2073.1, 'O'), (2079.1, 2079.6, 'O'), (2083.6, 2085.0, 'R'),
             (2085.8, 2089.1, 'R'), (2092.2, 2092.5, 'Y'), (2093.3, 2094.0, 'O'),
             (2095.9, 2101.0, 'R')]
A2_BANDS = [(1973.2, 1973.6, 'Y'), (1986.6, 1988.0, 'R'), (1989.1, 1990.3, 'R'),
            (1993.9, 1994.4, 'O'), (2021.6, 2023.0, 'R'), (2024.5, 2027.5, 'R'),
            (2028.1, 2030.6, 'R'), (2039.6, 2039.8, 'Y'), (2040.3, 2041.4, 'R'),
            (2051.1, 2053.1, 'R'), (2060.6, 2065.0, 'R'), (2075.0, 2076.9, 'R'),
            (2078.1, 2089.9, 'R'), (2091.3, 2092.0, 'O'), (2092.6, 2101.0, 'R')]
MK35_BANDS = [(1975.1, 1975.5, 'O'), (1998.6, 2000.0, 'R'), (2005.5, 2006.0, 'O'),
              (2006.3, 2006.6, 'Y'), (2007.0, 2007.3, 'Y'), (2008.4, 2010.0, 'R'),
              (2011.7, 2012.0, 'Y'), (2012.4, 2012.7, 'Y'), (2014.7, 2015.0, 'Y'),
              (2016.3, 2016.6, 'Y'), (2017.6, 2019.4, 'R'), (2020.8, 2021.2, 'Y'),
              (2021.6, 2022.7, 'R'), (2022.9, 2023.5, 'O'), (2028.8, 2029.3, 'O'),
              (2029.7, 2032.3, 'R'), (2035.4, 2036.0, 'O'), (2037.0, 2039.1, 'R'),
              (2040.1, 2040.3, 'Y'), (2044.7, 2047.2, 'R'), (2047.5, 2048.7, 'R'),
              (2050.2, 2050.5, 'Y'), (2050.7, 2061.0, 'R'), (2061.2, 2061.7, 'O'),
              (2062.2, 2062.5, 'Y'), (2063.0, 2064.0, 'R'), (2067.1, 2067.9, 'O'),
              (2073.7, 2101.0, 'R')]
GFDL_BANDS = [(1979.4, 1979.7, 'Y'), (1983.9, 1984.4, 'O'), (1986.3, 1986.5, 'Y'),
              (1995.2, 1995.5, 'Y'), (1999.6, 1999.8, 'Y'), (2003.0, 2004.1, 'R'),
              (2004.6, 2006.7, 'R'), (2010.6, 2010.8, 'Y'), (2015.7, 2016.0, 'Y'),
              (2016.5, 2016.7, 'Y'), (2019.8, 2020.3, 'O'), (2024.7, 2025.6, 'O'),
              (2025.9, 2028.0, 'R'), (2028.4, 2031.1, 'R'), (2034.0, 2034.2, 'Y'),
              (2037.0, 2038.5, 'R'), (2040.3, 2040.6, 'Y'), (2045.3, 2045.5, 'Y'),
              (2047.8, 2057.4, 'R'), (2057.6, 2058.1, 'Y'), (2058.3, 2060.3, 'R'),
              (2062.3, 2072.6, 'R'), (2074.1, 2074.5, 'O'), (2075.5, 2075.8, 'Y'),
              (2076.7, 2085.0, 'R'), (2085.6, 2086.7, 'R'), (2088.6, 2101.0, 'R')]
MIROC_BANDS = [(1978.4, 1981.2, 'R'), (1982.1, 1982.3, 'Y'), (1987.8, 1988.0, 'Y'),
               (2001.9, 2003.4, 'R'), (2011.3, 2013.1, 'R'), (2015.5, 2016.9, 'R'),
               (2037.7, 2037.9, 'Y'), (2043.7, 2044.0, 'Y'), (2045.6, 2045.9, 'Y'),
               (2056.5, 2057.0, 'O'), (2069.0, 2069.8, 'O'), (2070.6, 2070.8, 'Y'),
               (2075.3, 2079.3, 'R'), (2080.0, 2084.9, 'R'), (2090.7, 2092.1, 'R'),
               (2096.8, 2097.0, 'Y'), (2097.2, 2097.6, 'O'), (2097.8, 2098.0, 'Y')]
MPI_BANDS = [(1985.8, 1987.9, 'R'), (1994.1, 1995.5, 'R'), (2007.2, 2008.0, 'O'),
             (2025.5, 2028.3, 'R'), (2034.0, 2036.7, 'R'), (2043.8, 2045.9, 'R'),
             (2046.1, 2048.6, 'R'), (2048.8, 2049.6, 'O'), (2050.5, 2050.7, 'Y'),
             (2057.7, 2058.2, 'O'), (2067.3, 2067.5, 'Y'), (2070.7, 2076.3, 'R'),
             (2079.4, 2101.0, 'R')]

PANEL_NAMES = ["Observed", "CSIRO MK3 0<br>A1B", "CSIRO MK3 0<br>A2", "CSIRO MK3 5<br>A2",
               "GFDL CM2 1<br>A2", "MIROC3 2<br>MEDRES A2", "MPI ECHAM5<br>A2"]
Y_TICKS = [6, 4, 2, 0, -2, -4, -6]
Y_TICK_TEXT = ["6.0", "4.0", "2.0", "0.0", "-2.0", "-4.0", "-6.0"]
MODEL_YEAR_TICKS = [1971, 1981, 1991, 2001, 2011, 2021, 2031, 2041, 2051, 2061, 2071, 2081, 2091]
OBS_YEAR_TICKS = [1950, 1960, 1970, 1980, 1990, 2000]

# ---------------- styling / placement ----------------
OFF = 8                        # the page body adds an 8 px margin
W, H = 1216 - OFF, 996 - OFF   # figure fills the window from the margin on
FONT = "Liberation Sans, Arial, Helvetica, sans-serif"
BAND_COLORS = {'R': '#ff0000', 'O': '#ffa500', 'Y': '#ffef00'}
FRAME = '#222222'


def grid(t0, dt, vals):
    return [round(t0 + dt * (i + 1), 4) for i in range(len(vals))]


panels = [
    dict(thin=OBS_VALUES, t0=OBS_T0, dt=OBS_DT, tt=OBS_THICK_T, tv=OBS_THICK_V, bands=OBS_BANDS),
    dict(thin=CSIRO30_HIST + A1B_FUT, t0=MODEL_T0, dt=MODEL_DT, tt=A1B_THICK_T, tv=A1B_THICK_V, bands=A1B_BANDS),
    dict(thin=CSIRO30_HIST + A2_FUT, t0=MODEL_T0, dt=MODEL_DT, tt=A2_THICK_T, tv=A2_THICK_V, bands=A2_BANDS),
    dict(thin=MK35_VALUES, t0=MODEL_T0, dt=MODEL_DT, tt=MK35_THICK_T, tv=MK35_THICK_V, bands=MK35_BANDS),
    dict(thin=GFDL_VALUES, t0=MODEL_T0, dt=MODEL_DT, tt=GFDL_THICK_T, tv=GFDL_THICK_V, bands=GFDL_BANDS),
    dict(thin=MIROC_VALUES, t0=MODEL_T0, dt=MODEL_DT, tt=MIROC_THICK_T, tv=MIROC_THICK_V, bands=MIROC_BANDS),
    dict(thin=MPI_VALUES, t0=MODEL_T0, dt=MODEL_DT, tt=MPI_THICK_T, tv=MPI_THICK_V, bands=MPI_BANDS),
]

# target pixel boxes of the panels in the window (left, right, top, bottom)
boxes = [(176, 490, 16, 139), (175, 1217, 158, 283), (175, 1217, 297, 421), (175, 1217, 435, 560),
         (175, 1217, 574, 699), (175, 1217, 712, 837), (175, 1217, 851, 976)]

fig = go.Figure()
shapes = []
annotations = []
layout = dict(width=W, height=H, margin=dict(l=0, r=0, t=0, b=0, pad=0), autosize=False,
              template='none',
              paper_bgcolor='white', plot_bgcolor='white', showlegend=False,
              font=dict(family=FONT, color='#333'), hovermode=False)

for i, p in enumerate(panels):
    k = '' if i == 0 else str(i + 1)
    xa, ya = 'x' + k, 'y' + k
    L, R, T, B = [v - OFF for v in boxes[i]]
    obs = (i == 0)

    shapes.append(dict(type='line', xref=xa + ' domain', yref=ya, x0=0, x1=1, y0=0, y1=0,
                       line=dict(color='#a0a0a0', width=1), layer='below'))
    for (s, e, c) in p['bands']:
        shapes.append(dict(type='rect', xref=xa, yref=ya + ' domain', x0=s, x1=e, y0=0, y1=1,
                           fillcolor=BAND_COLORS[c], line=dict(width=0), layer='below'))

    fig.add_trace(go.Scatter(x=grid(p['t0'], p['dt'], p['thin']), y=p['thin'], mode='lines',
                             line=dict(color='#1e1e1e', width=0.8), xaxis=xa, yaxis=ya,
                             connectgaps=False, hoverinfo='skip'))
    fig.add_trace(go.Scatter(x=p['tt'], y=p['tv'], mode='lines',
                             line=dict(color='black', width=3.6 if not obs else 3.0),
                             xaxis=xa, yaxis=ya, connectgaps=False, hoverinfo='skip'))

    xdom = [L / W, min(R / W, 1.0)]
    ydom = [1 - B / H, 1 - T / H]
    if obs:
        xaxis = dict(domain=xdom, range=[1950.0, 2007.4], anchor=ya, showline=True, mirror=True,
                     linecolor=FRAME, linewidth=1.3, showgrid=False, zeroline=False,
                     automargin=False,
                     tickmode='array', tickvals=OBS_YEAR_TICKS, ticktext=[str(v) for v in OBS_YEAR_TICKS],
                     ticks='inside', ticklen=19, tickwidth=1.2, tickcolor=FRAME,
                     tickfont=dict(size=6.5, color='#555'), fixedrange=True)
    else:
        last = (i == len(panels) - 1)
        # x range chosen so that 1970.5 sits at the left frame and 8 px = 1 year
        x_end = 1970.5 + (xdom[1] - xdom[0]) * W / 8.0
        xaxis = dict(domain=xdom, range=[1970.5, x_end], anchor=ya, showline=True, mirror=True,
                     linecolor=FRAME, linewidth=1.5, showgrid=False, zeroline=False,
                     automargin=False,
                     tickmode='array', tickvals=MODEL_YEAR_TICKS,
                     ticktext=[str(v) for v in MODEL_YEAR_TICKS],
                     ticks='inside' if last else '', ticklen=25, tickwidth=1.2, tickcolor=FRAME,
                     showticklabels=last, tickfont=dict(size=13, color='#333'), fixedrange=True)
    yaxis = dict(domain=ydom, range=[-6, 6], anchor=xa, showline=True, mirror='allticks',
                 linecolor=FRAME, linewidth=1.3 if obs else 1.5, showgrid=False, zeroline=False,
                 automargin=False,
                 tickmode='array', tickvals=Y_TICKS, ticktext=Y_TICK_TEXT,
                 ticks='inside', ticklen=18 if obs else 32, tickwidth=1.2, tickcolor=FRAME,
                 minor=dict(tickmode='linear', tick0=0, dtick=0.4, ticks='inside',
                            ticklen=8 if obs else 15, tickwidth=0.9, tickcolor=FRAME, showgrid=False),
                 tickfont=dict(size=6.5 if obs else 13, color='#555'), fixedrange=True)
    layout['xaxis' + k] = xaxis
    layout['yaxis' + k] = yaxis

    cy = (boxes[i][2] + boxes[i][3]) / 2 - OFF
    annotations.append(dict(text=PANEL_NAMES[i], xref='paper', yref='paper',
                            x=(12 - OFF - 2) / W, y=1 - cy / H, xanchor='left', yanchor='middle',
                            align='left', showarrow=False,
                            font=dict(size=17, color='#111', family=FONT)))

layout['shapes'] = shapes
layout['annotations'] = annotations
fig.update_layout(**layout)
fig.write_html("out.html")
